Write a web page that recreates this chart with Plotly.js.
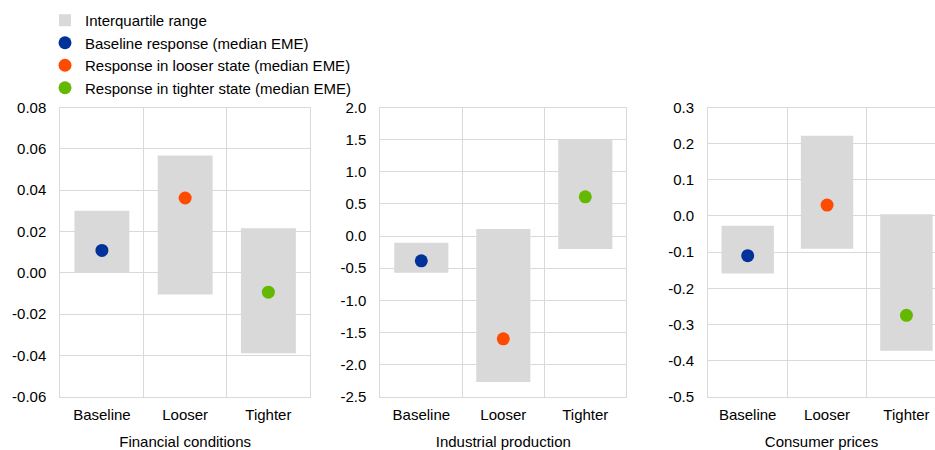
<!DOCTYPE html>
<html><head><meta charset="utf-8">
<script src="https://cdn.plot.ly/plotly-3.0.1.min.js"></script>
<style>html,body{margin:0;padding:0;background:#fff}#chart{width:935px;height:450px}</style>
</head><body><div id="chart"></div>
<script>
const categories = ['Baseline', 'Looser', 'Tighter'];
const panelTitles = ['Financial conditions', 'Industrial production', 'Consumer prices'];
const legendNames = ['Interquartile range', 'Baseline response (median EME)', 'Response in looser state (median EME)', 'Response in tighter state (median EME)'];

const finLow = [0.0, -0.0105, -0.039];
const finHigh = [0.030, 0.0568, 0.0215];
const finMed = [0.0108, 0.0362, -0.0094];

const indLow = [-0.573, -2.27, -0.20];
const indHigh = [-0.104, 0.11, 1.50];
const indMed = [-0.385, -1.60, 0.61];

const cpiLow = [-0.159, -0.091, -0.373];
const cpiHigh = [-0.027, 0.222, 0.005];
const cpiMed = [-0.110, 0.030, -0.275];

const finTicks = [-0.06, -0.04, -0.02, 0.00, 0.02, 0.04, 0.06, 0.08];
const indTicks = [-2.5, -2.0, -1.5, -1.0, -0.5, 0.0, 0.5, 1.0, 1.5, 2.0];
const cpiTicks = [-0.5, -0.4, -0.3, -0.2, -0.1, 0.0, 0.1, 0.2, 0.3];

const colors = ['#003299', '#ff4b00', '#65b800'];
const boxColor = '#d9d9d9';
const gridColor = '#d9d9d9';
const font = 'Liberation Sans, Arial, sans-serif';
const textColor = '#000000';

const panels = [
  {low: finLow, high: finHigh, med: finMed, ticks: finTicks, dec: 2},
  {low: indLow, high: indHigh, med: indMed, ticks: indTicks, dec: 1},
  {low: cpiLow, high: cpiHigh, med: cpiMed, ticks: cpiTicks, dec: 1}
];

const traces = [];
panels.forEach((p, k) => {
  const xa = k === 0 ? 'x' : 'x' + (k + 1);
  const ya = k === 0 ? 'y' : 'y' + (k + 1);
  traces.push({
    type: 'bar', x: categories, y: p.high.map((h, i) => h - p.low[i]), base: p.low,
    width: 0.66, marker: {color: boxColor}, xaxis: xa, yaxis: ya,
    name: legendNames[0], legendgroup: 'iqr', showlegend: k === 0, hoverinfo: 'skip'
  });
  categories.forEach((c, i) => {
    traces.push({
      type: 'scatter', mode: 'markers', x: [c], y: [p.med[i]], xaxis: xa, yaxis: ya,
      marker: {color: colors[i], size: 13},
      name: legendNames[i + 1], legendgroup: 'm' + i, showlegend: k === 0, cliponaxis: false
    });
  });
});

const xDomains = [[60.3/935, 310/935], [380.3/935, 626.3/935], [708/935, 1]];
const xRanges = [[-0.5, 2.5], [-0.5, 2.5], [-0.5, 2.36]];
const yDom = [1 - 396.7/450, 1 - 107.5/450];

const layout = {
  width: 935, height: 450,
  margin: {l: 0, r: 0, t: 0, b: 0},
  paper_bgcolor: '#fff', plot_bgcolor: '#fff',
  font: {family: font, size: 15, color: textColor},
  showlegend: true,
  legend: {x: 45/935, y: 1 - 4/450, xanchor: 'left', yanchor: 'top', traceorder: 'normal',
           font: {family: font, size: 15, color: textColor}, bgcolor: 'rgba(0,0,0,0)', tracegroupgap: 0},
  bargap: 0.34
};

panels.forEach((p, k) => {
  const sx = k === 0 ? '' : String(k + 1);
  layout['xaxis' + sx] = {
    domain: xDomains[k], range: xRanges[k], anchor: 'y' + sx, type: 'category',
    tickson: 'boundaries', showgrid: true, gridcolor: gridColor, gridwidth: 1,
    ticks: '', showline: true, linecolor: gridColor, linewidth: 1, mirror: true,
    zeroline: false, ticklabelstandoff: 4,
    tickfont: {family: font, size: 15, color: textColor},
    title: {text: panelTitles[k], font: {family: font, size: 15, color: textColor}}
  };
  const lo = p.ticks[0], hi = p.ticks[p.ticks.length - 1];
  layout['yaxis' + sx] = {
    domain: yDom, range: [lo, hi], anchor: 'x' + sx,
    tickvals: p.ticks, ticktext: p.ticks.map(v => v.toFixed(p.dec)),
    showgrid: true, gridcolor: gridColor, gridwidth: 1, zeroline: false,
    showline: true, linecolor: gridColor, linewidth: 1, mirror: k < 2,
    ticks: '', ticklabelstandoff: 10,
    tickfont: {family: font, size: 15, color: textColor}
  };
});

Plotly.newPlot('chart', traces, layout, {staticPlot: true});
</script></body></html>
